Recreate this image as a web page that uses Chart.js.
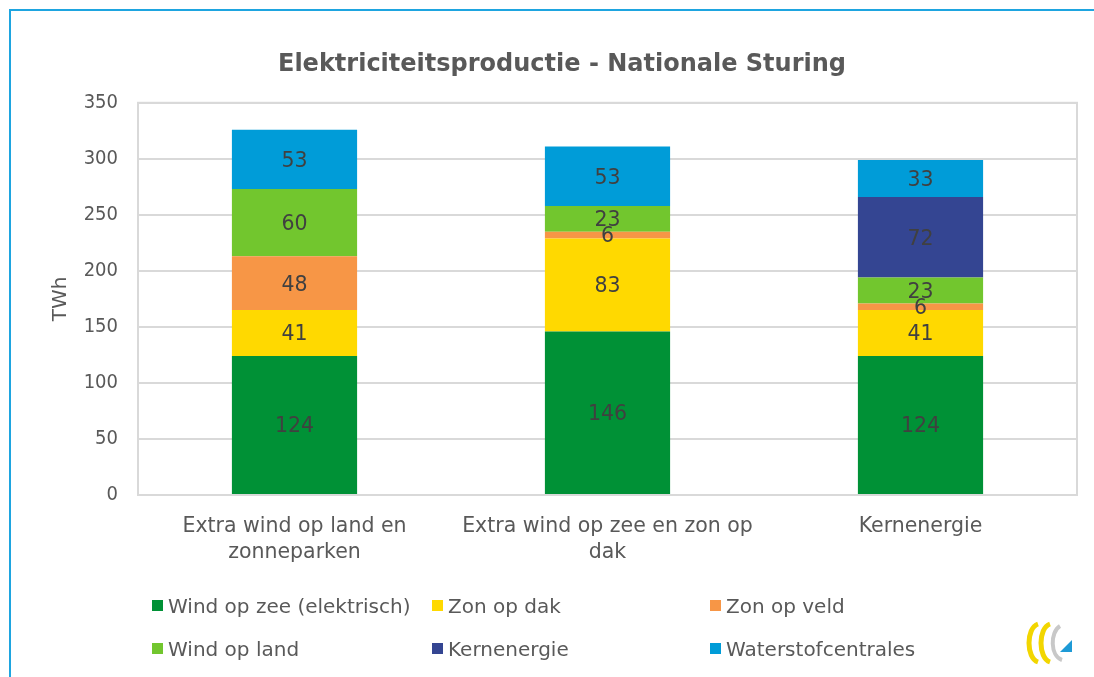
<!DOCTYPE html>
<html>
<head>
<meta charset="utf-8">
<script src="https://cdn.jsdelivr.net/npm/chart.js@4/dist/chart.umd.min.js"></script>
<style>
  body { margin: 0; background: #fff; }
  #wrap { position: relative; width: 1094px; height: 677px; overflow: hidden; }
  #frameTop { position: absolute; left: 9px; top: 9px; right: 0; height: 2px; background: #1ea5e0; }
  #frameLeft { position: absolute; left: 9px; top: 9px; bottom: 0; width: 2px; background: #1ea5e0; }
  canvas { position: absolute; left: 0; top: 0; }
  #legend {
    position: absolute; left: 152px; top: 584px;
    display: grid; grid-template-columns: 280px 278px auto;
    grid-auto-rows: 43px;
    font-family: 'DejaVu Sans', sans-serif;
    font-size: 20px; color: #595959;
  }
  .item { display: flex; align-items: center; white-space: nowrap; }
  .box { width: 11px; height: 11px; margin-right: 5px; }
  #logo { position: absolute; left: 1024px; top: 620px; }
</style>
</head>
<body>
<div id="wrap">
  <canvas id="chart" width="1094" height="677"></canvas>
  <div id="frameTop"></div>
  <div id="frameLeft"></div>
  <div id="legend"></div>
  <svg id="logo" width="52" height="46" viewBox="0 0 52 46">
    <path d="M14 4 C2 8 2 38 14 42" fill="none" stroke="#f2d600" stroke-width="5"/>
    <path d="M26 4 C14 8 14 38 26 42" fill="none" stroke="#f2d600" stroke-width="5"/>
    <path d="M36 6 C26 12 26 36 38 40" fill="none" stroke="#c8c8c8" stroke-width="4"/>
    <polygon points="36,32 48,32 48,20" fill="#1e9ad6"/>
  </svg>
</div>
<script>
const FONT = "'DejaVu Sans', sans-serif";
const NUM_FONT = "'DejaVu Sans Condensed', 'DejaVu Sans', sans-serif";

// categories and values (TWh)
const categories = [
  ["Extra wind op land en", "zonneparken"],
  ["Extra wind op zee en zon op", "dak"],
  "Kernenergie"
];
const windOpZee = [124, 146, 124];
const zonOpDak = [41, 83, 41];
const zonOpVeld = [48, 6, 6];
const windOpLand = [60, 23, 23];
const kernenergie = [0, 0, 72];
const waterstof = [53, 53, 33];
const yTicks = [0, 50, 100, 150, 200, 250, 300, 350];

const series = [
  { label: "Wind op zee (elektrisch)", data: windOpZee, color: "#009136" },
  { label: "Zon op dak", data: zonOpDak, color: "#ffd900" },
  { label: "Zon op veld", data: zonOpVeld, color: "#f79646" },
  { label: "Wind op land", data: windOpLand, color: "#72c62e" },
  { label: "Kernenergie", data: kernenergie, color: "#344592" },
  { label: "Waterstofcentrales", data: waterstof, color: "#009cd8" }
];

const legend = document.getElementById("legend");
series.forEach(s => {
  const el = document.createElement("div");
  el.className = "item";
  el.innerHTML = `<span class="box" style="background:${s.color}"></span>${s.label}`;
  legend.appendChild(el);
});

// grey frame round the plot area
const plotFrame = {
  id: "plotFrame",
  beforeDatasetsDraw(chart) {
    const a = chart.chartArea;
    const ctx = chart.ctx;
    ctx.save();
    ctx.strokeStyle = "#d9d9d9";
    ctx.lineWidth = 2;
    ctx.strokeRect(a.left, a.top, a.right - a.left, a.bottom - a.top);
    ctx.restore();
  }
};

// value in the middle of every segment
const valueLabels = {
  id: "valueLabels",
  afterDatasetsDraw(chart) {
    const ctx = chart.ctx;
    ctx.save();
    ctx.font = "20.5px " + FONT;
    ctx.fillStyle = "#404040";
    ctx.textAlign = "center";
    ctx.textBaseline = "middle";
    chart.data.datasets.forEach((ds, i) => {
      chart.getDatasetMeta(i).data.forEach((bar, j) => {
        const v = ds.data[j];
        if (!v) return;
        ctx.fillText(v, bar.x, (bar.y + bar.base) / 2 + 2);
      });
    });
    ctx.restore();
  }
};

new Chart(document.getElementById("chart"), {
  type: "bar",
  data: {
    labels: categories,
    datasets: series.map(s => ({
      label: s.label,
      data: s.data,
      backgroundColor: s.color,
      categoryPercentage: 1,
      barPercentage: 0.4
    }))
  },
  options: {
    responsive: false,
    animation: false,
    layout: { padding: { left: 47, right: 17, top: 50, bottom: 114 } },
    plugins: {
      legend: { display: false },
      tooltip: { enabled: false },
      title: {
        display: true,
        text: "Elektriciteitsproductie - Nationale Sturing",
        color: "#595959",
        font: { family: FONT, size: 24, weight: "bold" },
        padding: { top: 0, bottom: 24 }
      }
    },
    scales: {
      x: {
        stacked: true,
        grid: { display: false },
        border: { display: false },
        ticks: {
          color: "#595959",
          font: { family: FONT, size: 20.5, lineHeight: 1.3 },
          padding: 10,
          maxRotation: 0
        },
        afterFit(s) { s.height = 68; }
      },
      y: {
        stacked: true,
        min: 0,
        max: 350,
        afterBuildTicks(s) { s.ticks = yTicks.map(v => ({ value: v })); },
        grid: { color: "#d9d9d9", lineWidth: 2, drawTicks: false },
        border: { display: false },
        ticks: {
          color: "#595959",
          font: { family: NUM_FONT, size: 20 },
          padding: 20
        },
        title: {
          display: true,
          text: "TWh",
          color: "#595959",
          font: { family: FONT, size: 20 },
          padding: { top: 2, bottom: 0 }
        },
        afterFit(s) { s.width = 91; }
      }
    }
  },
  plugins: [plotFrame, valueLabels]
});
</script>
</body>
</html>
